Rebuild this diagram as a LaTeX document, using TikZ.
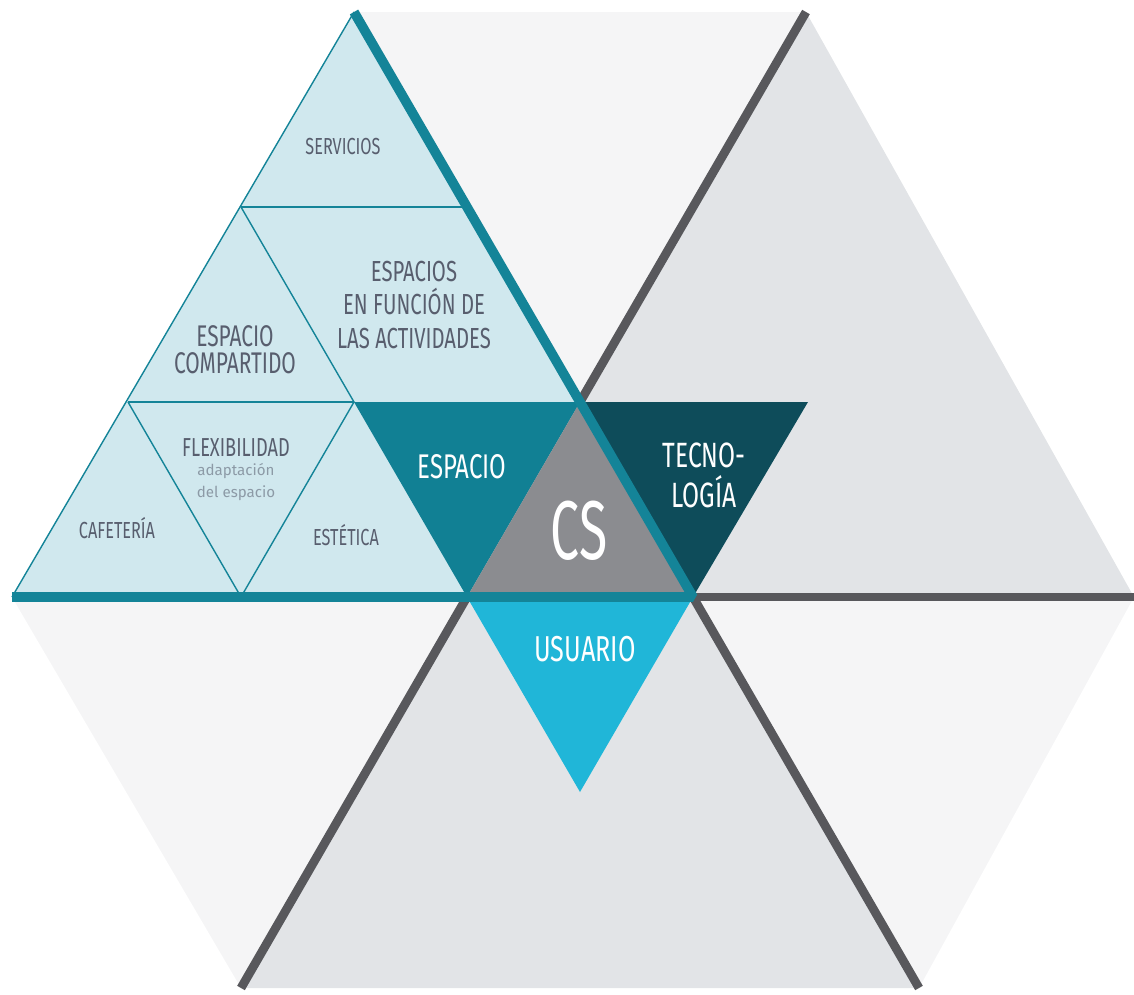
\documentclass[tikz,border=0pt]{standalone}
\usepackage{fontspec}
\usepackage{tikz}
\setmainfont{Fira Sans}
\newfontfamily\condfont{Fira Sans}[FakeStretch=0.7]
\newfontfamily\narrowfont{Fira Sans}[FakeStretch=0.62]
\definecolor{lightteal}{RGB}{208, 232, 238}
\definecolor{tealline}{RGB}{20, 132, 152}
\definecolor{espaciofill}{RGB}{17, 128, 148}
\definecolor{tecnofill}{RGB}{14, 76, 90}
\definecolor{csfill}{RGB}{139, 140, 144}
\definecolor{usuariofill}{RGB}{32, 182, 216}
\definecolor{greyline}{RGB}{88, 88, 92}
\definecolor{celltextcolor}{RGB}{88, 94, 110}
\definecolor{subtextcolor}{RGB}{140, 154, 166}
\definecolor{panelgrey}{RGB}{226, 228, 231}
\definecolor{palegrey}{RGB}{245, 245, 246}

\begin{document}
\begin{tikzpicture}[
    x=0.02cm, y=-0.02cm,
    celltext/.style={text=celltextcolor, align=center, inner sep=0pt},
    whitetext/.style={text=white, align=center, inner sep=0pt},
    subtext/.style={text=subtextcolor, align=center, inner sep=0pt, font=\fontsize{8.6}{12.5}\selectfont},
    thinedge/.style={draw=tealline, line width=0.8pt},
    tealbar/.style={draw=tealline, line width=5.5pt, line join=bevel},
    greybar/.style={draw=greyline, line width=5pt}
]
    \useasboundingbox (0,0) rectangle (1134,995);

    % corners of the grid
    \coordinate (apex) at (354,12);
    \coordinate (r1l) at (241,207);
    \coordinate (r1r) at (467,207);
    \coordinate (r2a) at (128,402);
    \coordinate (r2b) at (354,402);
    \coordinate (r2c) at (580,402);
    \coordinate (r2d) at (808,402);
    \coordinate (b0) at (12,597);
    \coordinate (b1) at (241,597);
    \coordinate (b2) at (467,597);
    \coordinate (b3) at (693,597);
    \coordinate (b4) at (1134,597);
    \coordinate (usu) at (580,792);
    \coordinate (topr) at (806,12);
    \coordinate (botl) at (241,988);
    \coordinate (botr) at (919,988);

    % hexagon sectors
    \fill[palegrey] (apex) -- (topr) -- (r2c) -- cycle;
    \fill[panelgrey] (topr) -- (b4) -- (b3) -- (r2c) -- cycle;
    \fill[palegrey] (b3) -- (b4) -- (botr) -- cycle;
    \fill[panelgrey] (b2) -- (b3) -- (botr) -- (botl) -- cycle;
    \fill[palegrey] (b0) -- (b2) -- (botl) -- cycle;

    \draw[greybar] (topr) -- (r2c);
    \draw[greybar] (b2) -- (botl);
    \draw[greybar] (b3) -- (botr);
    \draw[greybar] (b3) -- (b4);

    % left triangle
    \fill[lightteal] (b0) -- (apex) -- (b3) -- cycle;
    \draw[thinedge] (b0) -- (apex);
    \draw[thinedge] (r1l) -- (r1r);
    \draw[thinedge] (r2a) -- (r2b);
    \draw[thinedge] (r1l) -- (r2b) -- (b1) -- (r2a);

    \fill[espaciofill] (r2b) -- (r2c) -- (b2) -- cycle;
    \fill[csfill] (b2) -- (r2c) -- (b3) -- cycle;
    \fill[tecnofill] (r2c) -- (r2d) -- (b3) -- cycle;
    \fill[usuariofill] (b2) -- (b3) -- (usu) -- cycle;

    \draw[tealbar] (apex) -- (b3) -- (b0);

    \node[celltext, font=\condfont\fontsize{13.2}{15}\selectfont] (servicios) at (343,147) {SERVICIOS};
    \node[celltext, font=\condfont\fontsize{17}{15.5}\selectfont] (compartido) at (235,350) {ESPACIO\\COMPARTIDO};
    \node[celltext, font=\condfont\fontsize{16.5}{19.3}\selectfont] (actividades) at (414,305) {ESPACIOS\\EN FUNCIÓN DE\\LAS ACTIVIDADES};
    \node[celltext, font=\condfont\fontsize{14.8}{17}\selectfont] (flexibilidad) at (236,448) {FLEXIBILIDAD};
    \node[subtext] (adaptacion) at (236,482) {adaptación\\del espacio};
    \node[celltext, font=\condfont\fontsize{13.2}{15}\selectfont] (cafeteria) at (117,528) {CAFETERÍA};
    \node[celltext, font=\condfont\fontsize{13.2}{15}\selectfont] (estetica) at (346,535) {ESTÉTICA};
    \node[whitetext, font=\condfont\fontsize{19.5}{22}\selectfont] (espacio) at (462,467) {ESPACIO};
    \node[whitetext, font=\condfont\fontsize{20}{22.7}\selectfont] (tecnologia) at (704,475) {TECNO-\\LOGÍA};
    \node[whitetext, font=\narrowfont\fontsize{47.5}{50}\selectfont] (cs) at (579,531) {CS};
    \node[whitetext, font=\condfont\fontsize{20.5}{23}\selectfont] (usuario) at (585,649) {USUARIO};
\end{tikzpicture}
\end{document}
